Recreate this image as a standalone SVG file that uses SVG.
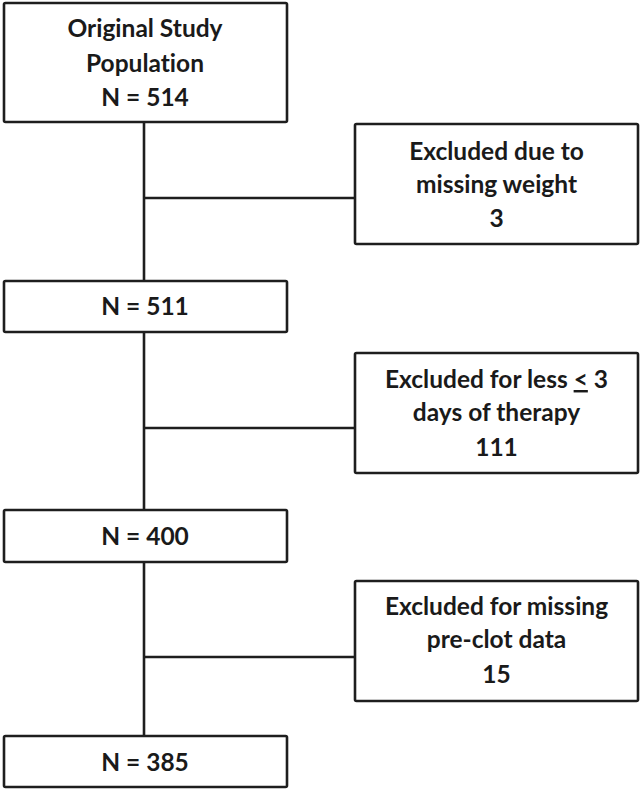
<svg xmlns="http://www.w3.org/2000/svg" width="644" height="791" viewBox="0 0 644 791">
<style>
.box{fill:#fff;stroke:#1e1e1e;stroke-width:2.6}
.ln{stroke:#1e1e1e;stroke-width:2.6;fill:none}
text{font-family:Lato,"Open Sans","Liberation Sans",sans-serif;font-weight:bold;font-size:24.5px;fill:#1a1a1a;text-anchor:middle;font-variant-ligatures:none}
.u{text-decoration:underline}
</style>
<rect width="644" height="791" fill="#fff"/>
<g id="connectors">
<line class="ln" x1="144" y1="122" x2="144" y2="281"/>
<line class="ln" x1="144" y1="332" x2="144" y2="510"/>
<line class="ln" x1="144" y1="562" x2="144" y2="736"/>
<line class="ln" x1="144" y1="198" x2="355" y2="198"/>
<line class="ln" x1="144" y1="428" x2="355" y2="428"/>
<line class="ln" x1="144" y1="657" x2="355" y2="657"/>
</g>
<g id="n1">
<rect class="box" x="4" y="3" width="283" height="119" rx="1.5"/>
<text x="145" y="37">Original Study</text>
<text x="145" y="72">Population</text>
<text x="145" y="106">N = 514</text>
</g>
<g id="x1">
<rect class="box" x="355" y="124" width="283" height="120" rx="1.5"/>
<text x="496.5" y="160">Excluded due to</text>
<text x="496.5" y="193">missing weight</text>
<text x="496.5" y="227">3</text>
</g>
<g id="n2">
<rect class="box" x="4" y="281" width="283" height="51" rx="1.5"/>
<text x="145" y="315">N = 511</text>
</g>
<g id="x2">
<rect class="box" x="355" y="353" width="283" height="120" rx="1.5"/>
<text x="496.5" y="388">Excluded for less <tspan class="u">&lt;</tspan> 3</text>
<text x="496.5" y="421">days of therapy</text>
<text x="496.5" y="456">111</text>
</g>
<g id="n3">
<rect class="box" x="4" y="510" width="283" height="52" rx="1.5"/>
<text x="145" y="545">N = 400</text>
</g>
<g id="x3">
<rect class="box" x="355" y="581" width="283" height="120" rx="1.5"/>
<text x="496.5" y="615">Excluded for missing</text>
<text x="496.5" y="648">pre-clot data</text>
<text x="496.5" y="683">15</text>
</g>
<g id="n4">
<rect class="box" x="4" y="736" width="283" height="51" rx="1.5"/>
<text x="145" y="771">N = 385</text>
</g>
</svg>
